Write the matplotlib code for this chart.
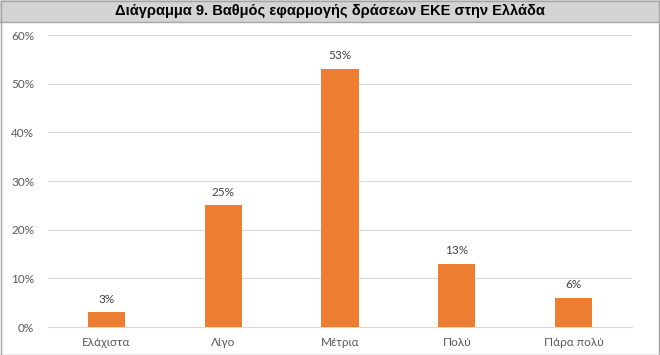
import matplotlib
matplotlib.use("Agg")
import matplotlib.pyplot as plt
from matplotlib.patches import Rectangle
from matplotlib.ticker import PercentFormatter

title = "Διάγραμμα 9. Βαθμός εφαρμογής δράσεων ΕΚΕ στην Ελλάδα"
categories = ["Ελάχιστα", "Λίγο", "Μέτρια", "Πολύ", "Πάρα πολύ"]
values = [3, 25, 53, 13, 6]
yticks = [0, 10, 20, 30, 40, 50, 60]

bar_color = "#ED7D31"
grid_color = "#D9D9D9"
text_color = "#595959"

fig = plt.figure(figsize=(6.6, 3.55), dpi=100)

# title band and frame
fig.patches.append(Rectangle((0, 1 - 22 / 355), 1, 22 / 355, transform=fig.transFigure,
                             facecolor="#D4D4D4", edgecolor="none", zorder=0))
fig.patches.append(Rectangle((0.5 / 660, 0.5 / 355), 658 / 660, 354 / 355,
                             transform=fig.transFigure, facecolor="none",
                             edgecolor="#A6A6A6", linewidth=1, zorder=5))
fig.lines.append(plt.Line2D([0, 1], [1 - 22 / 355] * 2, transform=fig.transFigure,
                            color="#A6A6A6", linewidth=1))
fig.text(0.5, 1 - 11 / 355, title, ha="center", va="center", fontsize=10.5,
         fontweight="bold", family=["Liberation Sans Narrow", "Liberation Sans"],
         color="#000000")

ax = fig.add_axes([48 / 660, 1 - 327 / 355, 584 / 660, 292 / 355])
x = range(len(categories))
ax.bar(x, values, width=0.32, color=bar_color, zorder=3)
for xi, v in zip(x, values):
    ax.text(xi, v + 1.6, f"{v}%", ha="center", va="bottom", fontsize=8.5,
            color="#404040", family="Lato")

ax.set_xlim(-0.5, len(categories) - 0.5)
ax.set_ylim(0, 60)
ax.set_yticks(yticks)
ax.yaxis.set_major_formatter(PercentFormatter(decimals=0))
ax.set_xticks(list(x))
ax.set_xticklabels(categories)
ax.grid(axis="y", color=grid_color, linewidth=0.8, zorder=0)
for s in ["top", "right", "left"]:
    ax.spines[s].set_visible(False)
ax.spines["bottom"].set_color(grid_color)
ax.tick_params(axis="both", length=0, labelsize=8.5, labelcolor=text_color)
ax.tick_params(axis="x", pad=7)
ax.tick_params(axis="y", pad=10)
for lab in ax.get_xticklabels() + ax.get_yticklabels():
    lab.set_family("Lato")

fig.savefig("out.png", dpi=100)
